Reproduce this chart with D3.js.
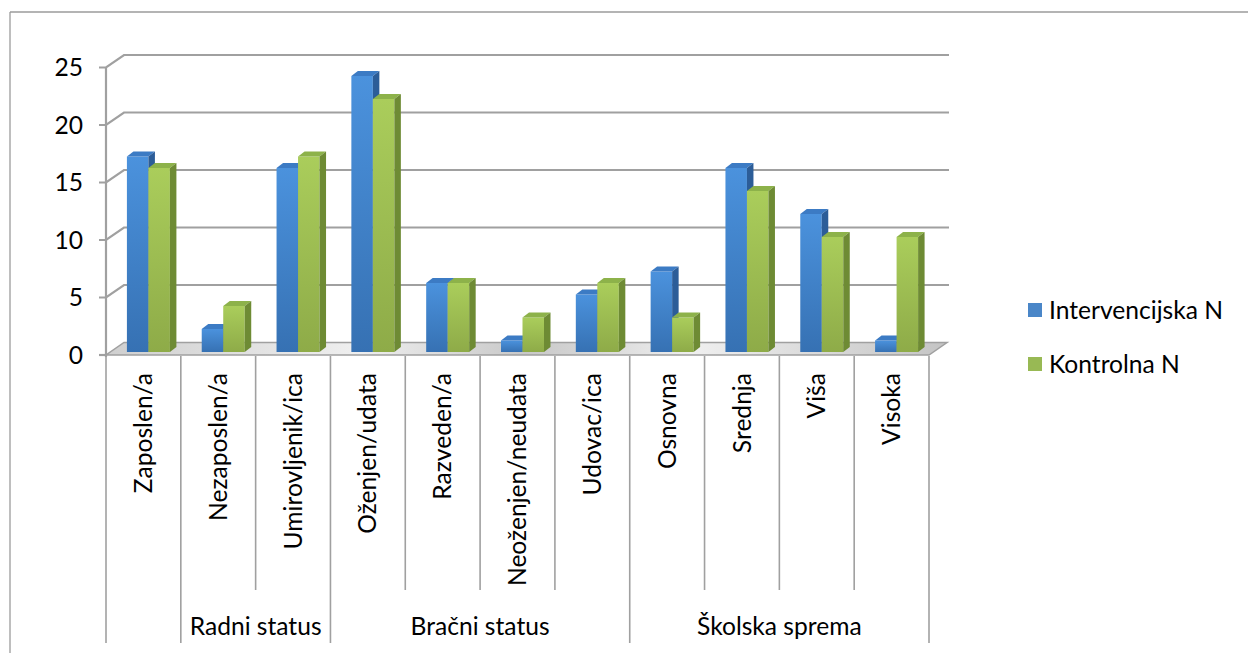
<!DOCTYPE html>
<html>
<head>
<meta charset="utf-8">
<script src="https://cdn.jsdelivr.net/npm/d3@7"></script>
<style>
  html, body { margin: 0; padding: 0; background: #fff; }
  svg { display: block; font-family: Lato, "Noto Sans", sans-serif; }
</style>
</head>
<body>
<svg id="chart" width="1248" height="653"></svg>
<script>
"use strict";

/* ── Data ─────────────────────────────────────────────── */
const categories = [
  "Zaposlen/a", "Nezaposlen/a", "Umirovljenik/ica",
  "Oženjen/udata", "Razveden/a", "Neoženjen/neudata", "Udovac/ica",
  "Osnovna", "Srednja", "Viša", "Visoka"
];
const intervencijska = [17, 2, 16, 24, 6, 1, 5, 7, 16, 12, 1];
const kontrolna      = [16, 4, 17, 22, 6, 3, 6, 3, 14, 10, 10];
const seriesNames = ["Intervencijska N", "Kontrolna N"];
const groupNames  = ["", "Radni status", "Bračni status", "Školska sprema"];
const groupFirst  = [0, 1, 3, 7];     // first category index of each group
const groupLast   = [0, 2, 6, 10];    // last category index of each group
const yTicks = [0, 5, 10, 15, 20, 25];

/* ── Layout ───────────────────────────────────────────── */
const FRONT_L = 106, FRONT_R = 929;
const WALL_D = { x: 18, y: -12.5 };   // full floor depth
const BAR_OFF = { x: 5, y: -3 };      // bars sit slightly inside the floor
const BAR_D = { x: 6.5, y: -5 };      // bar depth
const PAIR_W = 43;
const GRID = "#a0a0a0";
const FS = 24.6;

const svg = d3.select("#chart");
const defs = svg.append("defs");

function vgrad(id, top, bottom) {
  const gr = defs.append("linearGradient").attr("id", id)
    .attr("x1", 0).attr("y1", 0).attr("x2", 0).attr("y2", 1);
  gr.append("stop").attr("offset", "0%").attr("stop-color", top);
  gr.append("stop").attr("offset", "100%").attr("stop-color", bottom);
}
vgrad("blueFront", "#4b92dd", "#3671b3");
vgrad("greenFront", "#aacd5b", "#8eab48");

const floorG = defs.append("linearGradient").attr("id", "floorGrad")
  .attr("x1", 0).attr("y1", 0).attr("x2", 1).attr("y2", 0);
[["0%", "#cfcfcf"], ["30%", "#efefef"], ["50%", "#c8c8c8"], ["70%", "#efefef"], ["100%", "#c4c4c4"]]
  .forEach(([o, c]) => floorG.append("stop").attr("offset", o).attr("stop-color", c));

const palette = [
  { front: "url(#blueFront)", top: "#3c7bc4", side: "#2c5d98", legend: "#4a86c8" },
  { front: "url(#greenFront)", top: "#8db24a", side: "#6e8b34", legend: "#98b954" }
];

/* ── Scales ───────────────────────────────────────────── */
const x = d3.scaleBand().domain(categories).range([FRONT_L, FRONT_R]).padding(0);
const xSub = d3.scaleBand().domain(seriesNames).range([0, PAIR_W]).padding(0);
const y = d3.scaleLinear().domain([0, 25]).range([355, 67.5]);

/* ── Outer frame (top + left edges visible) ───────────── */
svg.append("line").attr("x1", 10).attr("y1", 12).attr("x2", 1248).attr("y2", 12)
  .attr("stroke", "#9b9b9b").attr("stroke-width", 1.3);
svg.append("line").attr("x1", 10).attr("y1", 12).attr("x2", 10).attr("y2", 653)
  .attr("stroke", "#9b9b9b").attr("stroke-width", 1.3);

/* ── Walls: gridlines ─────────────────────────────────── */
const walls = svg.append("g");
yTicks.forEach((t) => {
  if (t === 0) return;
  const yf = y(t);
  walls.append("path")
    .attr("d", `M${FRONT_L - 7},${yf} L${FRONT_L},${yf} L${FRONT_L + WALL_D.x},${yf + WALL_D.y} L${FRONT_R + WALL_D.x + 2},${yf + WALL_D.y}`)
    .attr("fill", "none").attr("stroke", GRID).attr("stroke-width", 2.2);
});

/* ── Floor ────────────────────────────────────────────── */
const y0 = y(0);
svg.append("path")
  .attr("d", `M${FRONT_L},${y0} L${FRONT_R},${y0} L${FRONT_R + WALL_D.x},${y0 + WALL_D.y} L${FRONT_L + WALL_D.x},${y0 + WALL_D.y} Z`)
  .attr("fill", "url(#floorGrad)").attr("stroke", GRID).attr("stroke-width", 1.5);
svg.append("line").attr("x1", FRONT_L - 7).attr("y1", y0).attr("x2", FRONT_L).attr("y2", y0)
  .attr("stroke", GRID).attr("stroke-width", 2.2);

/* Value axis line (front left) */
svg.append("line").attr("x1", FRONT_L).attr("y1", y(25)).attr("x2", FRONT_L).attr("y2", y0 + 2)
  .attr("stroke", GRID).attr("stroke-width", 2.2);

/* ── Bars ─────────────────────────────────────────────── */
const barData = [];
categories.forEach((c, i) => {
  [intervencijska[i], kontrolna[i]].forEach((v, s) => {
    barData.push({ cat: c, series: seriesNames[s], s, v });
  });
});

const bars = svg.append("g").selectAll("g.bar").data(barData).join("g").attr("class", "bar");
bars.each(function (d) {
  const g = d3.select(this);
  const bx = x(d.cat) + (x.bandwidth() - PAIR_W) / 2 + BAR_OFF.x + xSub(d.series);
  const w = xSub.bandwidth();
  const yb = y(0) + BAR_OFF.y;
  const yt = y(d.v) + BAR_OFF.y;
  const col = palette[d.s];
  g.append("rect").attr("x", bx).attr("y", yt).attr("width", w).attr("height", yb - yt)
    .attr("fill", col.front);
  g.append("path")
    .attr("d", `M${bx},${yt} L${bx + w},${yt} L${bx + w + BAR_D.x},${yt + BAR_D.y} L${bx + BAR_D.x},${yt + BAR_D.y} Z`)
    .attr("fill", col.top);
  g.append("path")
    .attr("d", `M${bx + w},${yt} L${bx + w + BAR_D.x},${yt + BAR_D.y} L${bx + w + BAR_D.x},${yb + BAR_D.y} L${bx + w},${yb} Z`)
    .attr("fill", col.side);
});

/* ── Y axis labels ────────────────────────────────────── */
svg.append("g").selectAll("text").data(yTicks).join("text")
  .attr("x", 83).attr("y", (d) => y(d)).attr("dy", "0.36em")
  .attr("text-anchor", "end").attr("font-size", FS).attr("fill", "#000")
  .text((d) => d);

/* ── Category axis (multi-level) ──────────────────────── */
const catAxis = svg.append("g");
const boundaries = d3.range(categories.length + 1);
const groupEdges = new Set(groupFirst.concat([categories.length]));
boundaries.forEach((i) => {
  const bx = FRONT_L + i * x.bandwidth();
  catAxis.append("line")
    .attr("x1", bx).attr("x2", bx)
    .attr("y1", y0 + 1).attr("y2", groupEdges.has(i) ? 643 : 590)
    .attr("stroke", GRID).attr("stroke-width", 1.6);
});

catAxis.selectAll("text.cat").data(categories).join("text").attr("class", "cat")
  .attr("transform", (d) => `translate(${x(d) + x.bandwidth() / 2},373) rotate(-90)`)
  .attr("dy", "0.35em").attr("text-anchor", "end")
  .attr("font-size", FS).attr("fill", "#000")
  .text((d) => d);

catAxis.selectAll("text.grp").data(groupNames).join("text").attr("class", "grp")
  .attr("x", (d, i) => (x(categories[groupFirst[i]]) + x(categories[groupLast[i]]) + x.bandwidth()) / 2)
  .attr("y", 635).attr("text-anchor", "middle")
  .attr("font-size", FS).attr("fill", "#000")
  .text((d) => d);

/* ── Legend ───────────────────────────────────────────── */
const legend = svg.append("g").attr("transform", "translate(1028,303)");
seriesNames.forEach((name, i) => {
  const row = legend.append("g").attr("transform", `translate(0,${i * 54})`);
  row.append("rect").attr("width", 14).attr("height", 14).attr("fill", palette[i].legend);
  row.append("text").attr("x", 21).attr("y", 7).attr("dy", "0.36em")
    .attr("font-size", FS).attr("fill", "#000").text(name);
});
</script>
</body>
</html>
